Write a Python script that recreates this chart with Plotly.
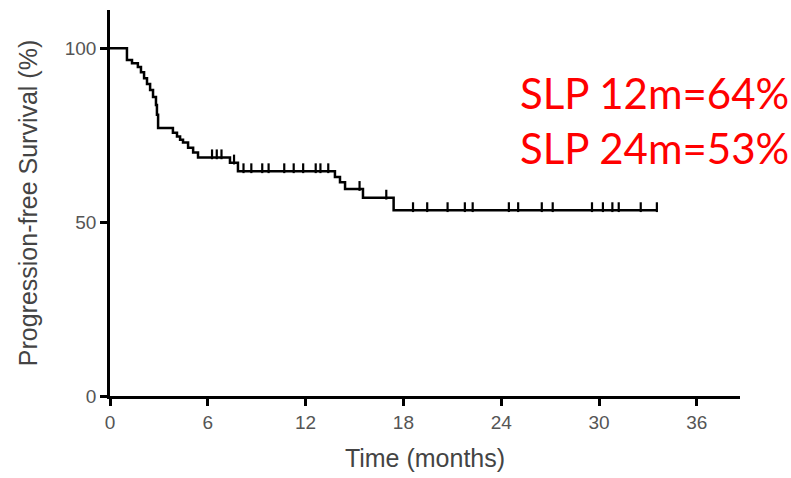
import plotly.graph_objects as go

# Kaplan-Meier step data (months, % progression-free)
step_t = [0, 1.04, 1.35, 1.71, 1.90, 2.09, 2.27, 2.46, 2.64, 2.82, 2.88, 2.95,
          3.86, 4.11, 4.30, 4.48, 4.79, 5.10, 5.40, 7.36, 7.85,
          13.80, 14.11, 14.42, 15.52, 17.4]
step_s = [100, 96.6, 95.7, 94.6, 93.1, 91.4, 89.7, 88.0, 86.0, 83.7, 80.9, 77.1,
          75.7, 74.6, 73.7, 72.9, 71.4, 70.0, 68.6, 67.1, 64.6,
          63.0, 61.5, 59.5, 57.0, 53.4]
end_t = 33.55

# censored observations (months)
censor_t = [6.26, 6.55, 6.84, 7.61,
            8.19, 8.67, 9.34, 9.73, 10.69, 11.27, 11.85, 12.62, 12.91, 13.39,
            15.31, 16.95,
            18.59, 19.46, 20.71, 21.77, 22.25, 24.47, 25.04, 26.49, 27.16,
            29.57, 30.24, 30.82, 31.21, 32.56, 33.55]

x_ticks = [0, 6, 12, 18, 24, 30, 36]
y_ticks = [0, 50, 100]
notes = ["SLP 12m=64%", "SLP 24m=53%"]


def surv_at(t):
    s = step_s[0]
    for tt, ss in zip(step_t, step_s):
        if tt <= t:
            s = ss
    return s


line_x = step_t + [end_t]
line_y = step_s + [step_s[-1]]
censor_y = [surv_at(t) + 0.9 for t in censor_t]

fig = go.Figure()
fig.add_trace(go.Scatter(x=line_x, y=line_y, mode="lines", line_shape="hv",
                         line=dict(color="black", width=2.5), showlegend=False,
                         hoverinfo="skip"))
fig.add_trace(go.Scatter(x=censor_t, y=censor_y, mode="markers",
                         marker=dict(symbol="line-ns", size=7,
                                     line=dict(color="black", width=2.2)),
                         showlegend=False, hoverinfo="skip"))

axis_font = dict(family="Liberation Sans, Arial, sans-serif", size=19, color="#555555")
title_font = dict(family="Liberation Sans, Arial, sans-serif", size=25, color="#444444")

fig.update_xaxes(range=[0, 38.65], tickvals=x_ticks, ticks="outside", ticklen=7,
                 tickwidth=2.5, tickcolor="black", showline=True, linewidth=2.5,
                 linecolor="black", showgrid=False, zeroline=False,
                 tickfont=axis_font,
                 title=dict(text="Time (months)", font=title_font, standoff=18))
fig.update_yaxes(range=[0, 111], tickvals=y_ticks, ticks="outside", ticklen=7,
                 tickwidth=2.5, tickcolor="black", showline=True, linewidth=2.5,
                 linecolor="black", showgrid=False, zeroline=False,
                 tickfont=axis_font,
                 title=dict(text="Progression-free Survival (%)", font=title_font,
                            standoff=20))

note_y = [0.784, 0.642]
for txt, yy in zip(notes, note_y):
    fig.add_annotation(text=txt, xref="paper", yref="paper", x=0.648, y=yy,
                       xanchor="left", yanchor="middle", showarrow=False,
                       font=dict(family="Lato, sans-serif", size=42, color="#ff0000"))

fig.update_layout(width=791, height=478, margin=dict(l=110, r=51, t=10, b=80),
                  plot_bgcolor="white", paper_bgcolor="white")

fig.write_html("out.html")
